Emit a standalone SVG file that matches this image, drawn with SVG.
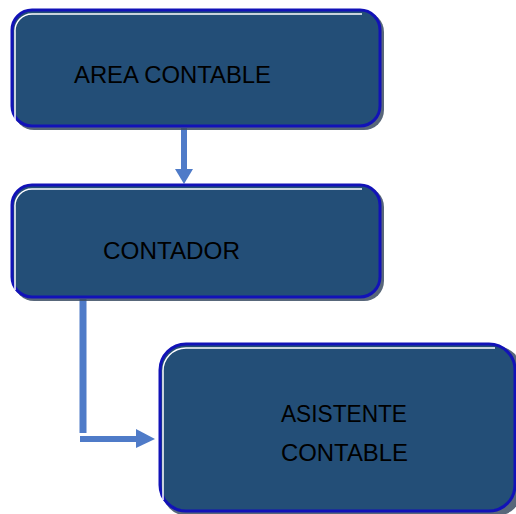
<svg xmlns="http://www.w3.org/2000/svg" width="516" height="514" viewBox="0 0 516 514">
<defs>
<style>
.shadow{fill:#3b4c63;opacity:0.85}
.box{fill:#234e77;stroke:#1212b8;stroke-width:3}
.hl{fill:none;stroke:#ffffff;stroke-width:1.5}
.lbl{font-family:"Liberation Sans",Arial,sans-serif;font-size:23.5px;fill:#000}
.conn{stroke:#4f7bc8;fill:none}
.head{fill:#4f7bc8}
</style>
</defs>
<rect width="516" height="514" fill="#ffffff"/>
<g id="connectors">
<line class="conn" x1="184" y1="128" x2="184" y2="170" stroke-width="6"/>
<polygon class="head" points="175,169 193,169 184,184"/>
<line class="conn" x1="83" y1="299" x2="83" y2="433" stroke-width="7"/>
<line class="conn" x1="80" y1="439" x2="137" y2="439" stroke-width="6"/>
<polygon class="head" points="136,429 136,448 155,439"/>
</g>
<g id="area-contable">
<rect class="shadow" x="14" y="12" width="370" height="118" rx="20"/>
<rect class="box" x="12" y="10" width="368" height="116" rx="20"/>
<path class="hl" d="M15,120 V32 A17,17 0 0 1 32,14 H362"/>
<text class="lbl" x="74" y="83" textLength="197" lengthAdjust="spacingAndGlyphs">AREA CONTABLE</text>
</g>
<g id="contador">
<rect class="shadow" x="14" y="187" width="370" height="114" rx="20"/>
<rect class="box" x="12" y="185" width="368" height="112" rx="20"/>
<path class="hl" d="M15,290 V207 A17,17 0 0 1 32,189 H362"/>
<text class="lbl" x="103" y="259" textLength="137" lengthAdjust="spacingAndGlyphs">CONTADOR</text>
</g>
<g id="asistente-contable">
<rect class="shadow" x="162" y="346" width="360" height="170" rx="26"/>
<rect class="box" x="160" y="344" width="355" height="167" rx="26"/>
<path class="hl" d="M163,500 V372 A23,23 0 0 1 186,348 H495"/>
<text class="lbl" x="281" y="422" textLength="126" lengthAdjust="spacingAndGlyphs">ASISTENTE</text>
<text class="lbl" x="281" y="461" textLength="127" lengthAdjust="spacingAndGlyphs">CONTABLE</text>
</g>
</svg>
